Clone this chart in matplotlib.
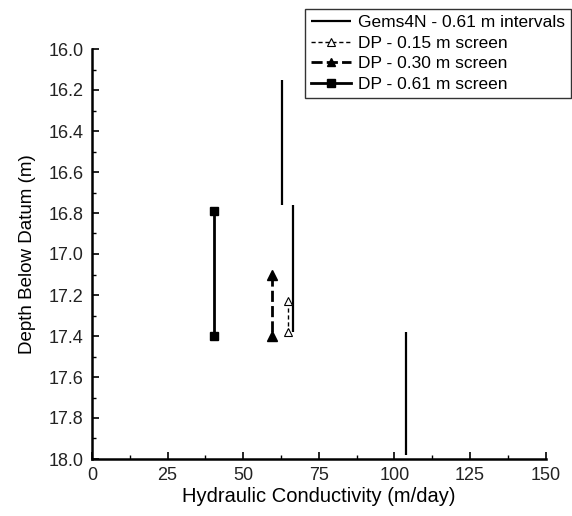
import matplotlib
matplotlib.use("Agg")
import matplotlib.pyplot as plt
from matplotlib.ticker import MultipleLocator, FormatStrFormatter

plt.rcParams['font.family'] = ['Liberation Sans', 'DejaVu Sans']

# Gems4N profile: one vertical segment per 0.61 m interval
gems_k = [62.9, 66.5, 103.9]
gems_top = [16.15, 16.76, 17.38]
gems_bot = [16.76, 17.38, 17.98]

# Direct-push screens: conductivity and screened depth range
dp15_k = 64.8
dp15_depth = [17.23, 17.38]
dp30_k = 59.6
dp30_depth = [17.10, 17.40]
dp61_k = 40.5
dp61_depth = [16.79, 17.40]

labels = ["Gems4N - 0.61 m intervals", "DP - 0.15 m screen",
          "DP - 0.30 m screen", "DP - 0.61 m screen"]

fig = plt.figure(figsize=(5.72, 5.16), dpi=100)
ax = fig.add_axes([92 / 572, 1 - 459 / 516, (545.7 - 92) / 572, (459 - 49) / 516])

h_gems = None
for k, t, b in zip(gems_k, gems_top, gems_bot):
    h_gems, = ax.plot([k, k], [t, b], color='black', lw=1.6, solid_capstyle='butt')

h15, = ax.plot([dp15_k, dp15_k], dp15_depth, color='black', lw=1.0,
               linestyle=(0, (3, 2)), marker='^', markersize=6,
               markerfacecolor='white', markeredgecolor='black', markeredgewidth=0.8)
h30, = ax.plot([dp30_k, dp30_k], dp30_depth, color='black', lw=2.0,
               linestyle=(0, (4, 1.5)), marker='^', markersize=6.5,
               markerfacecolor='black', markeredgecolor='black')
h61, = ax.plot([dp61_k, dp61_k], dp61_depth, color='black', lw=2.0,
               marker='s', markersize=6, markerfacecolor='black',
               markeredgecolor='black')

ax.set_xlim(0, 150)
ax.set_ylim(18.0, 16.0)
ax.xaxis.set_major_locator(MultipleLocator(25))
ax.xaxis.set_minor_locator(MultipleLocator(12.5))
ax.yaxis.set_major_locator(MultipleLocator(0.2))
ax.yaxis.set_minor_locator(MultipleLocator(0.1))
ax.yaxis.set_major_formatter(FormatStrFormatter('%.1f'))

for s in ('top', 'right'):
    ax.spines[s].set_visible(False)
for s in ('left', 'bottom'):
    ax.spines[s].set_linewidth(1.8)

ax.tick_params(which='major', direction='in', length=5, width=1.2,
               labelsize=13, labelcolor='#222222', pad=6)
ax.tick_params(which='minor', direction='in', length=3, width=1.0)

ax.set_xlabel("Hydraulic Conductivity (m/day)", fontsize=14.5, labelpad=2)
ax.set_ylabel("Depth Below Datum (m)", fontsize=13.5, labelpad=9)

leg = fig.legend([h_gems, h15, h30, h61], labels,
                 loc='upper right', bbox_to_anchor=(571 / 572, 1 - 9 / 516),
                 bbox_transform=fig.transFigure, numpoints=1,
                 fontsize=12.5, frameon=True, fancybox=False,
                 borderpad=0.35, labelspacing=0.31, handlelength=2.3,
                 handletextpad=0.4, borderaxespad=0, markerscale=0.85)
leg.get_frame().set_edgecolor('black')
leg.get_frame().set_linewidth(1.0)

fig.savefig("out.png", dpi=100)
